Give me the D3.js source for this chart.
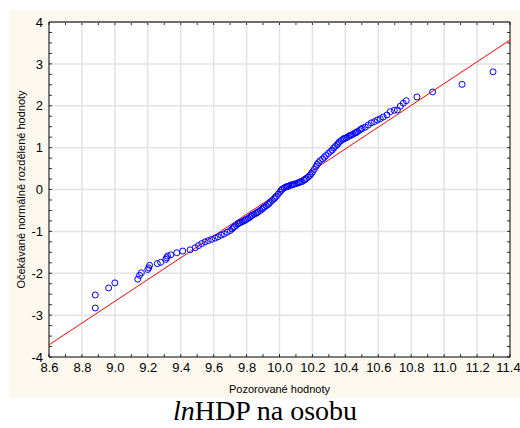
<!DOCTYPE html>
<html lang="cs">
<head>
<meta charset="UTF-8">
<title>Normal probability plot</title>
<script src="https://cdn.jsdelivr.net/npm/d3@7.9.0/dist/d3.min.js"></script>
<style>
    body { margin: 0; background: #fff; }
    svg { display: block; }
    .tick text { font-family: "Liberation Sans", Arial, sans-serif; font-size: 13px; fill: #000; }
    .axis-title { font-family: "Liberation Sans", Arial, sans-serif; font-size: 11px; fill: #000; }
    .caption { font-family: "Liberation Serif", "Times New Roman", serif; font-size: 28px; fill: #000; }
</style>
</head>
<body>
<svg id="chart" width="520" height="428"></svg>
<script>
const observed = [
    8.881, 8.881, 8.962, 9.000, 9.139, 9.150, 9.161, 9.200, 9.206, 9.211,
    9.258, 9.278, 9.309, 9.314, 9.320, 9.340, 9.376, 9.412, 9.457, 9.488,
    9.508, 9.528, 9.548, 9.567, 9.588, 9.609, 9.627, 9.646, 9.664, 9.682,
    9.700, 9.712, 9.719, 9.726, 9.737, 9.748, 9.755, 9.762, 9.773, 9.784,
    9.792, 9.799, 9.810, 9.821, 9.828, 9.835, 9.846, 9.857, 9.864, 9.871,
    9.883, 9.894, 9.901, 9.908, 9.919, 9.930, 9.937, 9.944, 9.956, 9.967,
    9.974, 9.981, 9.992, 10.003, 10.010, 10.017, 10.029, 10.040, 10.047, 10.054,
    10.065, 10.076, 10.083, 10.090, 10.102, 10.113, 10.120, 10.127, 10.138, 10.149,
    10.156, 10.163, 10.175, 10.186, 10.193, 10.200, 10.211, 10.222, 10.229, 10.236,
    10.247, 10.262, 10.272, 10.282, 10.296, 10.310, 10.320, 10.328, 10.339, 10.350,
    10.357, 10.364, 10.375, 10.386, 10.393, 10.403, 10.412, 10.423, 10.430, 10.437,
    10.448, 10.459, 10.466, 10.473, 10.485, 10.496, 10.503,
    10.521, 10.539, 10.557, 10.576, 10.594, 10.612, 10.630, 10.653, 10.673, 10.697,
    10.716, 10.734, 10.752, 10.770, 10.835, 10.930, 11.109, 11.297
];
const expected = [
    -2.83, -2.52, -2.35, -2.23, -2.14, -2.05, -1.99, -1.91, -1.87, -1.81,
    -1.77, -1.74, -1.67, -1.63, -1.59, -1.56, -1.51, -1.47, -1.44, -1.39,
    -1.34, -1.29, -1.25, -1.22, -1.19, -1.16, -1.13, -1.09, -1.06, -1.02,
    -0.98, -0.94, -0.91, -0.89, -0.86, -0.82, -0.80, -0.79, -0.77, -0.75,
    -0.73, -0.71, -0.69, -0.66, -0.63, -0.61, -0.59, -0.57, -0.55, -0.53,
    -0.50, -0.47, -0.44, -0.42, -0.39, -0.36, -0.33, -0.30, -0.26, -0.22,
    -0.19, -0.16, -0.11, -0.06, -0.02, 0.01, 0.04, 0.06, 0.07, 0.08,
    0.10, 0.11, 0.12, 0.13, 0.14, 0.16, 0.17, 0.18, 0.19, 0.22,
    0.24, 0.26, 0.30, 0.34, 0.38, 0.42, 0.48, 0.55, 0.60, 0.64,
    0.69, 0.73, 0.77, 0.81, 0.86, 0.91, 0.94, 0.99, 1.03, 1.07,
    1.10, 1.14, 1.17, 1.20, 1.22, 1.23, 1.25, 1.28, 1.29, 1.30,
    1.32, 1.35, 1.36, 1.38, 1.41, 1.44, 1.46,
    1.49, 1.54, 1.59, 1.62, 1.66, 1.69, 1.73, 1.78, 1.86, 1.89,
    1.90, 1.99, 2.06, 2.12, 2.21, 2.33, 2.51, 2.81
];

// fitted normal line end points
const fitX = [8.6, 11.4];
const fitY = [-3.71, 3.57];

const xTicks = [8.6, 8.8, 9.0, 9.2, 9.4, 9.6, 9.8, 10.0, 10.2, 10.4, 10.6, 10.8, 11.0, 11.2, 11.4];
const yTicks = [-4, -3, -2, -1, 0, 1, 2, 3, 4];

const xTitle = 'Pozorované hodnoty';
const yTitle = 'Očekávané normálně rozdělené hodnoty';

const svg = d3.select('#chart');
const m = { left: 49, right: 510, top: 22, bottom: 357 };

const x = d3.scaleLinear().domain([8.6, 11.4]).range([m.left, m.right]);
const y = d3.scaleLinear().domain([-4, 4]).range([m.bottom, m.top]);

// cream panel + white plot area
svg.append('rect').attr('x', 9).attr('y', 10).attr('width', 511).attr('height', 388).attr('fill', '#fcf8ee');
svg.append('rect').attr('x', m.left).attr('y', m.top).attr('width', m.right - m.left).attr('height', m.bottom - m.top).attr('fill', '#fff');

// grid
const grid = svg.append('g').attr('stroke', '#e3e3e3').attr('stroke-width', 1.5);
grid.selectAll('.gx').data(xTicks.slice(1, -1)).enter().append('line')
    .attr('x1', d => x(d)).attr('x2', d => x(d)).attr('y1', m.top).attr('y2', m.bottom);
grid.selectAll('.gy').data(yTicks.slice(1, -1)).enter().append('line')
    .attr('y1', d => y(d)).attr('y2', d => y(d)).attr('x1', m.left).attr('x2', m.right);

// minor ticks on all four sides, pointing inward
const xMinor = d3.range(86, 115).map(d => d / 10);
const yMinor = d3.range(-16, 17).map(d => d / 4);
const ticks = svg.append('g').attr('stroke', '#333').attr('stroke-width', 1);
ticks.selectAll('.tt').data(xMinor).enter().append('line')
    .attr('x1', d => x(d)).attr('x2', d => x(d)).attr('y1', m.top).attr('y2', m.top + 3);
ticks.selectAll('.tb').data(xMinor).enter().append('line')
    .attr('x1', d => x(d)).attr('x2', d => x(d)).attr('y1', m.bottom).attr('y2', m.bottom - 3);
ticks.selectAll('.tl').data(yMinor).enter().append('line')
    .attr('y1', d => y(d)).attr('y2', d => y(d)).attr('x1', m.left).attr('x2', m.left + 3);
ticks.selectAll('.tr').data(yMinor).enter().append('line')
    .attr('y1', d => y(d)).attr('y2', d => y(d)).attr('x1', m.right).attr('x2', m.right - 3);

// axes labels
svg.append('g').attr('transform', `translate(0,${m.bottom})`)
    .call(d3.axisBottom(x).tickValues(xTicks).tickFormat(d3.format('.1f')).tickSize(0).tickPadding(6))
    .call(g => g.select('.domain').remove())
    .call(g => g.selectAll('.tick:last-of-type text').attr('dx', -2));
svg.append('g').attr('transform', `translate(${m.left},0)`)
    .call(d3.axisLeft(y).tickValues(yTicks).tickFormat(d => d < 0 ? '-' + Math.abs(d) : d).tickSize(0).tickPadding(6))
    .call(g => g.select('.domain').remove());

// frame
svg.append('line').attr('x1', m.left).attr('x2', m.right).attr('y1', m.top).attr('y2', m.top)
    .attr('stroke', '#6e6e6e').attr('stroke-width', 2);
svg.append('line').attr('x1', m.left).attr('x2', m.left).attr('y1', m.top).attr('y2', m.bottom).attr('stroke', '#000');
svg.append('line').attr('x1', m.right).attr('x2', m.right).attr('y1', m.top).attr('y2', m.bottom).attr('stroke', '#000');
svg.append('line').attr('x1', m.left).attr('x2', m.right).attr('y1', m.bottom).attr('y2', m.bottom).attr('stroke', '#000');

// fitted line
svg.append('line')
    .attr('x1', x(fitX[0])).attr('y1', y(fitY[0]))
    .attr('x2', x(fitX[1])).attr('y2', y(fitY[1]))
    .attr('stroke', '#ff0000').attr('stroke-width', 1);

// points
svg.append('g').selectAll('circle')
    .data(observed.map((v, i) => [v, expected[i]]))
    .enter().append('circle')
    .attr('cx', d => x(d[0])).attr('cy', d => y(d[1]))
    .attr('r', 3)
    .attr('fill', 'none').attr('stroke', '#0000ff').attr('stroke-width', 1);

// titles
svg.append('text').attr('class', 'axis-title')
    .attr('x', (m.left + m.right) / 2).attr('y', 393).attr('text-anchor', 'middle').text(xTitle);
svg.append('text').attr('class', 'axis-title')
    .attr('transform', `translate(25,${(m.top + m.bottom) / 2}) rotate(-90)`)
    .attr('text-anchor', 'middle').text(yTitle);

// caption
const cap = svg.append('text').attr('class', 'caption')
    .attr('x', 265).attr('y', 420).attr('text-anchor', 'middle');
cap.append('tspan').attr('font-style', 'italic').text('ln');
cap.append('tspan').text('HDP na osobu');
</script>
</body>
</html>
